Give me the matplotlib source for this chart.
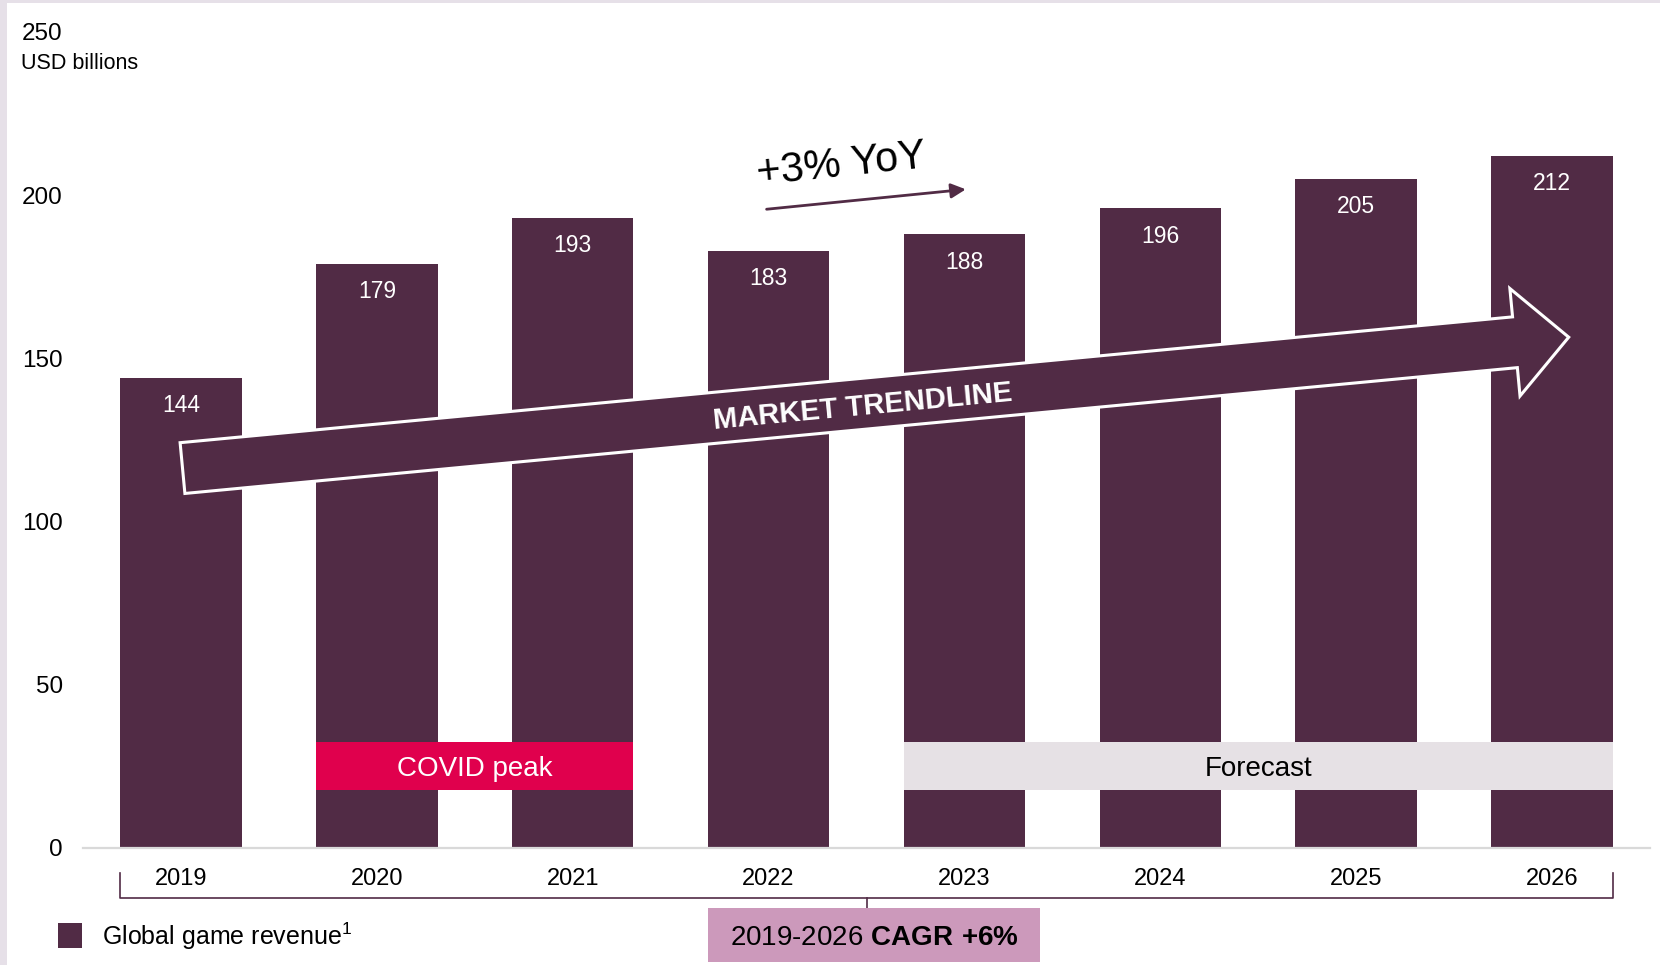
import numpy as np
import matplotlib.pyplot as plt
from matplotlib.patches import Rectangle, Polygon

plt.rcParams['font.family'] = ['Liberation Sans', 'DejaVu Sans']
plt.rcParams['mathtext.fontset'] = 'custom'
plt.rcParams['mathtext.rm'] = 'Liberation Sans'
plt.rcParams['mathtext.bf'] = 'Liberation Sans:bold'
plt.rcParams['mathtext.default'] = 'regular'

# data
years = ['2019', '2020', '2021', '2022', '2023', '2024', '2025', '2026']
revenue = [144, 179, 193, 183, 188, 196, 205, 212]
y_ticks = [0, 50, 100, 150, 200, 250]

PLUM = '#512B45'
CRIMSON = '#E0004D'
LIGHT = '#E6E1E5'
LILAC = '#CC99BB'
FRAME = '#E6E0E8'

W, H = 1660, 965
fig = plt.figure(figsize=(W / 100, H / 100), dpi=100)
fig.patch.set_facecolor(FRAME)
fig.patches.append(Rectangle((7 / W, 0), 1, 1 - 3 / H, transform=fig.transFigure,
                             facecolor='white', edgecolor='none', zorder=-10))

ax = fig.add_axes([83 / W, 1 - 848 / H, (1650 - 83) / W, (848 - 32) / H])
ax.set_facecolor('none')
x = np.arange(len(years))
bw = 0.62
ax.bar(x, revenue, width=bw, color=PLUM, zorder=2)
ax.set_xlim(-0.5, 7.5)
ax.set_ylim(0, 250)

for s in ['top', 'right', 'left']:
    ax.spines[s].set_visible(False)
ax.spines['bottom'].set_color('#D9D9D9')
ax.spines['bottom'].set_linewidth(1.6)

ax.set_yticks(y_ticks)
ax.set_yticklabels([str(t) for t in y_ticks])
ax.tick_params(axis='y', length=0, pad=14.5, labelsize=17.5, labelcolor='black')
ax.set_xticks(x)
ax.set_xticklabels(years)
ax.tick_params(axis='x', length=0, pad=14.5, labelsize=17, labelcolor='black')

fig.text(21 / W, 1 - 63.5 / H, 'USD billions', fontsize=15.5, ha='left', va='center')

# value labels inside bars
for xi, v in zip(x, revenue):
    ax.annotate(str(v), (xi, v), xytext=(0, -20), textcoords='offset points',
                ha='center', va='center', color='white', fontsize=16.5, zorder=5)

# COVID / forecast boxes
ax.add_patch(Rectangle((1 - bw / 2, 17.8), 1 + bw, 14.7, facecolor=CRIMSON,
                       edgecolor='none', zorder=3))
ax.text(1.5, 24.2, 'COVID peak', color='white', fontsize=20, ha='center',
        va='center', zorder=4)
ax.add_patch(Rectangle((4 - bw / 2, 17.8), 3 + bw, 14.7, facecolor=LIGHT,
                       edgecolor='none', zorder=3))
ax.text(5.5, 24.2, 'Forecast', color='black', fontsize=20, ha='center',
        va='center', zorder=4)

# market trendline arrow, built in display space
start = ax.transData.transform((0.008, 116.4))
tip = ax.transData.transform((7.085, 156.5))
shaft_w, head_w, head_len = 51, 108, 54
d = (tip - start) / np.hypot(*(tip - start))
n = np.array([-d[1], d[0]])
base = tip - d * head_len
pts = [start + n * shaft_w / 2, base + n * shaft_w / 2, base + n * head_w / 2, tip,
       base - n * head_w / 2, base - n * shaft_w / 2, start - n * shaft_w / 2]
pts = ax.transData.inverted().transform(np.array(pts))
ax.add_patch(Polygon(pts, closed=True, facecolor=PLUM, edgecolor='white',
                     linewidth=2.2, zorder=6, joinstyle='miter'))
angle = np.degrees(np.arctan2(d[1], d[0]))
ax.text(3.48, 135.0, 'MARKET TRENDLINE', color='white', fontsize=21,
        fontweight='bold', rotation=angle, rotation_mode='anchor',
        ha='center', va='center', zorder=7)

# +3% YoY arrow
ax.annotate('', xy=(4.007, 201.8), xytext=(2.99, 195.7),
            arrowprops=dict(arrowstyle='-|>', color=PLUM, lw=2,
                            mutation_scale=22, shrinkA=0, shrinkB=0),
            zorder=6, annotation_clip=False)
ax.text(3.37, 209.2, '+3% YoY', fontsize=30, rotation=6, rotation_mode='anchor',
        ha='center', va='center', zorder=6)

# CAGR bracket
left, right, mid = -bw / 2, 7 + bw / 2, 3.5
ax.plot([left, left, right, right], [-7.7, -15.3, -15.3, -7.7], color=PLUM,
        lw=1.2, clip_on=False, zorder=3)
ax.plot([mid, mid], [-15.3, -18.5], color=PLUM, lw=1.2, clip_on=False, zorder=3)
ax.add_patch(Rectangle((2.691, -35.0), 1.697, 16.5, facecolor=LILAC,
                       edgecolor='none', clip_on=False, zorder=3))
ax.text(3.54, -27.6, r'2019-2026 $\mathbf{CAGR\ {+}6\%}$', fontsize=20,
        ha='center', va='center', zorder=4, clip_on=False)

# legend
fig.patches.append(Rectangle((58 / W, 1 - 947.5 / H), 23.5 / W, 24.5 / H,
                             transform=fig.transFigure, facecolor=PLUM,
                             edgecolor='none'))
fig.text(101.5 / W, 1 - 936 / H, 'Global game revenue$^{1}$', fontsize=18,
         ha='left', va='center')

fig.savefig('out.png', dpi=100, facecolor=fig.get_facecolor())
